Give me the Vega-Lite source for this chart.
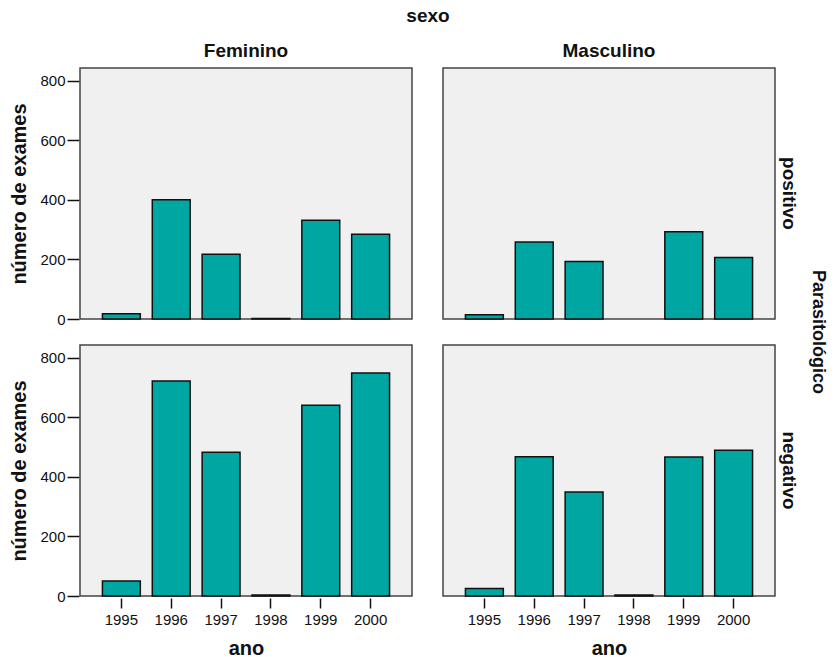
{
  "$schema": "https://vega.github.io/schema/vega-lite/v6.json",
  "background": "white",
  "padding": {"left": 9, "top": 7, "right": 8, "bottom": 0},
  "data": {
    "values": [
      {"sexo": "Feminino", "resultado": "positivo", "ano": "1995", "n": 18},
      {"sexo": "Feminino", "resultado": "positivo", "ano": "1996", "n": 400},
      {"sexo": "Feminino", "resultado": "positivo", "ano": "1997", "n": 217},
      {"sexo": "Feminino", "resultado": "positivo", "ano": "1998", "n": 2},
      {"sexo": "Feminino", "resultado": "positivo", "ano": "1999", "n": 331},
      {"sexo": "Feminino", "resultado": "positivo", "ano": "2000", "n": 284},
      {"sexo": "Masculino", "resultado": "positivo", "ano": "1995", "n": 14},
      {"sexo": "Masculino", "resultado": "positivo", "ano": "1996", "n": 258},
      {"sexo": "Masculino", "resultado": "positivo", "ano": "1997", "n": 193},
      {"sexo": "Masculino", "resultado": "positivo", "ano": "1999", "n": 293},
      {"sexo": "Masculino", "resultado": "positivo", "ano": "2000", "n": 206},
      {"sexo": "Feminino", "resultado": "negativo", "ano": "1995", "n": 50},
      {"sexo": "Feminino", "resultado": "negativo", "ano": "1996", "n": 721},
      {"sexo": "Feminino", "resultado": "negativo", "ano": "1997", "n": 482},
      {"sexo": "Feminino", "resultado": "negativo", "ano": "1998", "n": 3},
      {"sexo": "Feminino", "resultado": "negativo", "ano": "1999", "n": 640},
      {"sexo": "Feminino", "resultado": "negativo", "ano": "2000", "n": 748},
      {"sexo": "Masculino", "resultado": "negativo", "ano": "1995", "n": 25},
      {"sexo": "Masculino", "resultado": "negativo", "ano": "1996", "n": 467},
      {"sexo": "Masculino", "resultado": "negativo", "ano": "1997", "n": 349},
      {"sexo": "Masculino", "resultado": "negativo", "ano": "1998", "n": 3},
      {"sexo": "Masculino", "resultado": "negativo", "ano": "1999", "n": 466},
      {"sexo": "Masculino", "resultado": "negativo", "ano": "2000", "n": 489}
    ]
  },
  "facet": {
    "column": {
      "field": "sexo", "type": "nominal", "sort": ["Feminino", "Masculino"], "title": "sexo",
      "header": {"titleFontSize": 19, "titleFontWeight": "bold", "labelFontSize": 19, "labelFontWeight": "bold", "titlePadding": 6, "labelPadding": 6}
    },
    "row": {
      "field": "resultado", "type": "nominal", "sort": ["positivo", "negativo"], "title": "Parasitológico",
      "header": {"titleOrient": "right", "labelOrient": "right", "labelAngle": 90, "titleAngle": 90, "titleFontSize": 18, "titleFontWeight": "bold", "labelFontSize": 19, "labelFontWeight": "bold", "labelPadding": 3, "titlePadding": 1}
    }
  },
  "spacing": {"row": 23, "column": 29},
  "spec": {
    "width": 332,
    "height": 251,
    "mark": {"type": "bar", "fill": "#00a6a2", "stroke": "#111111", "strokeWidth": 1.5},
    "encoding": {
      "x": {
        "field": "ano", "type": "ordinal", "title": "ano",
        "scale": {"domain": ["1995", "1996", "1997", "1998", "1999", "2000"], "paddingInner": 0.24, "paddingOuter": 0.45},
        "axis": {"labelAngle": 0, "tickSize": 10, "labelPadding": 4, "titlePadding": 11, "domain": false}
      },
      "y": {
        "field": "n", "type": "quantitative", "title": "número de exames",
        "scale": {"domain": [0, 842], "nice": false},
        "axis": {"values": [0, 200, 400, 600, 800], "tickSize": 12, "grid": false, "labelPadding": 2, "titlePadding": 10, "domain": false}
      }
    }
  },
  "config": {
    "font": "Liberation Sans",
    "view": {"fill": "#f0f0f0", "stroke": "#444444", "strokeWidth": 1.5},
    "axis": {"labelFontSize": 15, "labelColor": "#111", "titleFontSize": 20, "titleFontWeight": "bold", "titleColor": "#111", "tickColor": "#111", "tickWidth": 1.5, "grid": false},
    "header": {"labelColor": "#111", "titleColor": "#111"}
  }
}
